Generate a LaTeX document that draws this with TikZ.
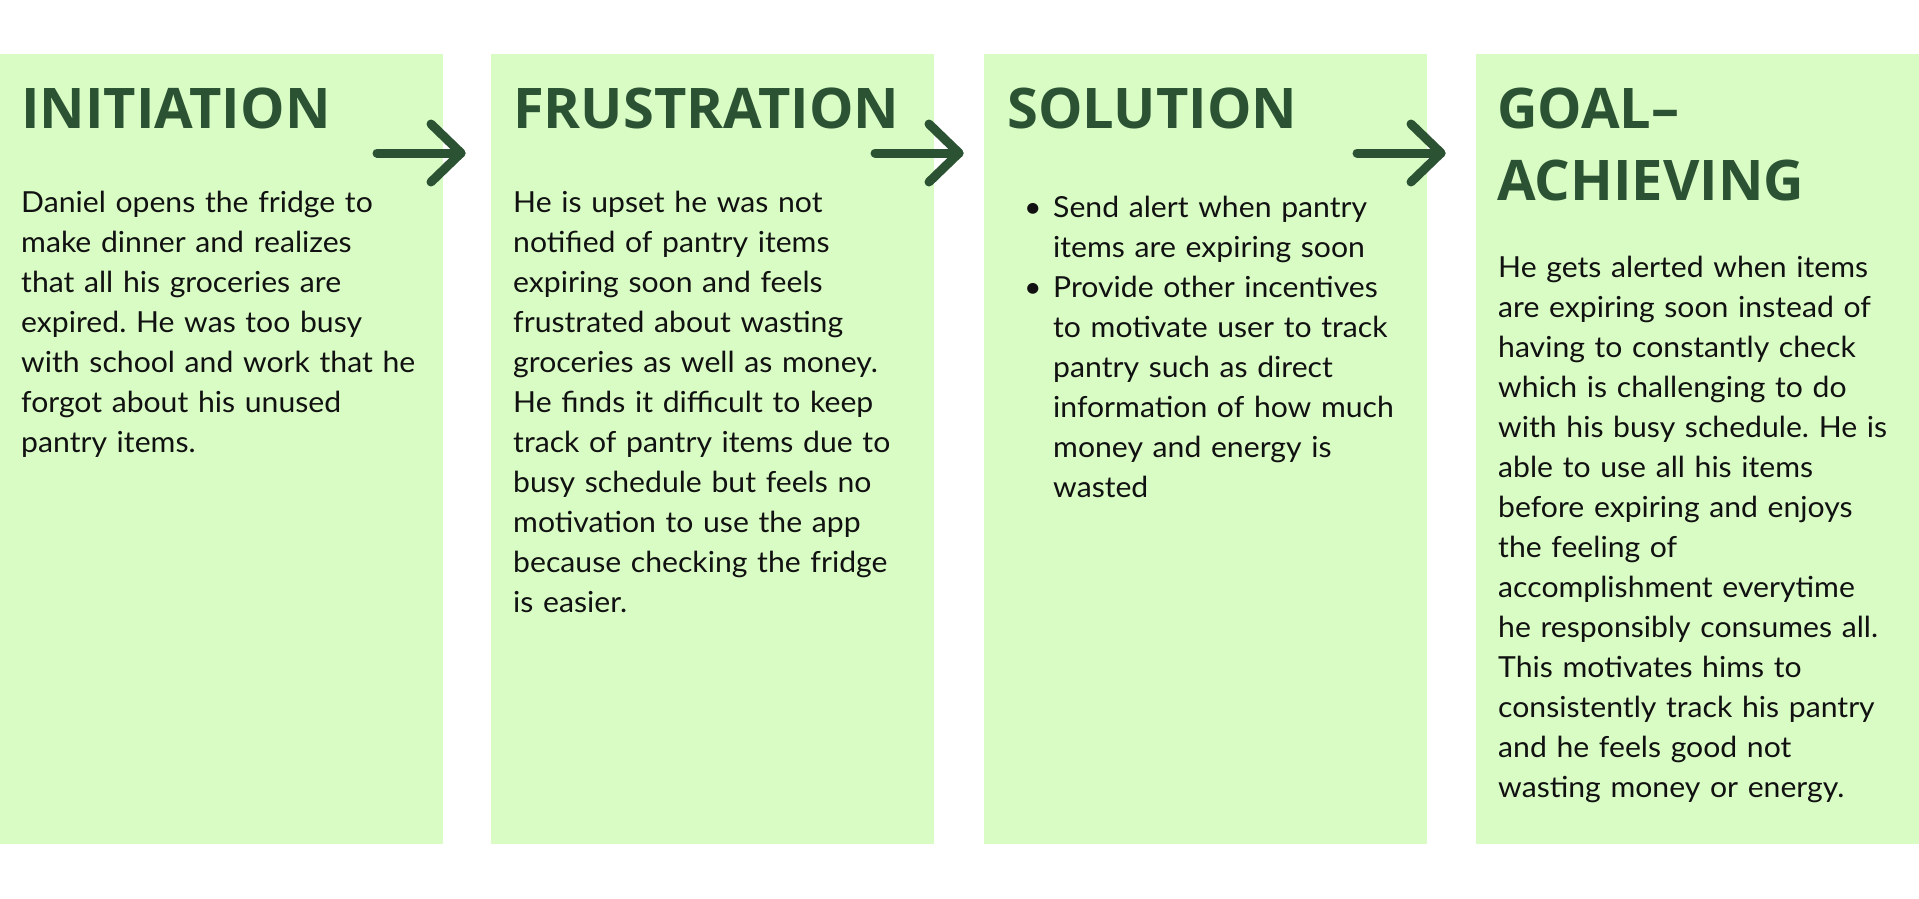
\documentclass[tikz,border=0pt]{standalone}
\usepackage{fontspec}
\setmainfont{Lato}[FakeStretch=1.04]
\newfontfamily\titlefont{Open Sans}
\definecolor{panelgreen}{HTML}{D9FCC5}
\definecolor{darkgreen}{HTML}{2B5233}
\definecolor{bodyink}{HTML}{111111}
\frenchspacing
\begin{document}
\begin{tikzpicture}[x=1pt,y=-1pt,
  panel/.style={fill=panelgreen, draw=none, inner sep=0pt, minimum width=443pt, minimum height=790pt, anchor=north west},
  title/.style={anchor=base west, inner sep=0pt, font=\titlefont\bfseries\fontsize{56}{72}\selectfont, text=darkgreen, text width=430pt, align=left},
  body/.style={anchor=base west, inner sep=0pt, font=\fontsize{29}{40}\selectfont\frenchspacing, text=bodyink, text width=425pt, align=left},
  bullet/.style={anchor=base west, inner sep=0pt, font=\fontsize{29}{40}\selectfont, text=bodyink},
  flow/.style={draw=darkgreen, line width=9pt, line cap=round, line join=round}]
\useasboundingbox (0,0) rectangle (1919,898);
\fill[white] (0,0) rectangle (1919,898);

% panels
\node[panel] (p1) at (0,54) {};
\node[panel] (p2) at (491,54) {};
\node[panel] (p3) at (984,54) {};
\node[panel] (p4) at (1476,54) {};

% titles
\node[title] (t1) at (21,128) {INITIATION};
\node[title] (t2) at (513,128) {FRUSTRATION};
\node[title] (t3) at (1007,128) {SOLUTION};
\node[title] (t4) at (1497,128) {GOAL–\\ACHIEVING};

% bodies
\node[body] (b1) at (21,212) {Daniel opens the fridge to\\make dinner and realizes\\that all his groceries are\\expired. He was too busy\\with school and work that he\\forgot about his unused\\pantry items.};
\node[body] (b2) at (513,212) {He is upset he was not\\notified of pantry items\\expiring soon and feels\\frustrated about wasting\\groceries as well as money.\\He finds it difficult to keep\\track of pantry items due to\\busy schedule but feels no\\motivation to use the app\\because checking the fridge\\is easier.};
\node[bullet] (d1) at (1024,217) {•};
\node[body, text width=360pt] (s1) at (1053,217) {Send alert when pantry\\items are expiring soon};
\node[bullet] (d2) at (1024,297) {•};
\node[body, text width=360pt] (s2) at (1053,297) {Provide other incentives\\to motivate user to track\\pantry such as direct\\information of how much\\money and energy is\\wasted};
\node[body] (b4) at (1498,277) {He gets alerted when items\\are expiring soon instead of\\having to constantly check\\which is challenging to do\\with his busy schedule. He is\\able to use all his items\\before expiring and enjoys\\the feeling of\\accomplishment everytime\\he responsibly consumes all.\\This motivates hims to\\consistently track his pantry\\and he feels good not\\wasting money or energy.};

% arrows
\coordinate (a1s) at (377,153); \coordinate (a1e) at (461,153);
\coordinate (a2s) at (875,153); \coordinate (a2e) at (959,153);
\coordinate (a3s) at (1357,153); \coordinate (a3e) at (1441,153);
\foreach \s/\e in {a1s/a1e, a2s/a2e, a3s/a3e}{
  \draw[flow] (\s) -- (\e);
  \draw[flow] ([shift={(-30,-29)}]\e) -- (\e) -- ([shift={(-30,29)}]\e);
}
\end{tikzpicture}
\end{document}
